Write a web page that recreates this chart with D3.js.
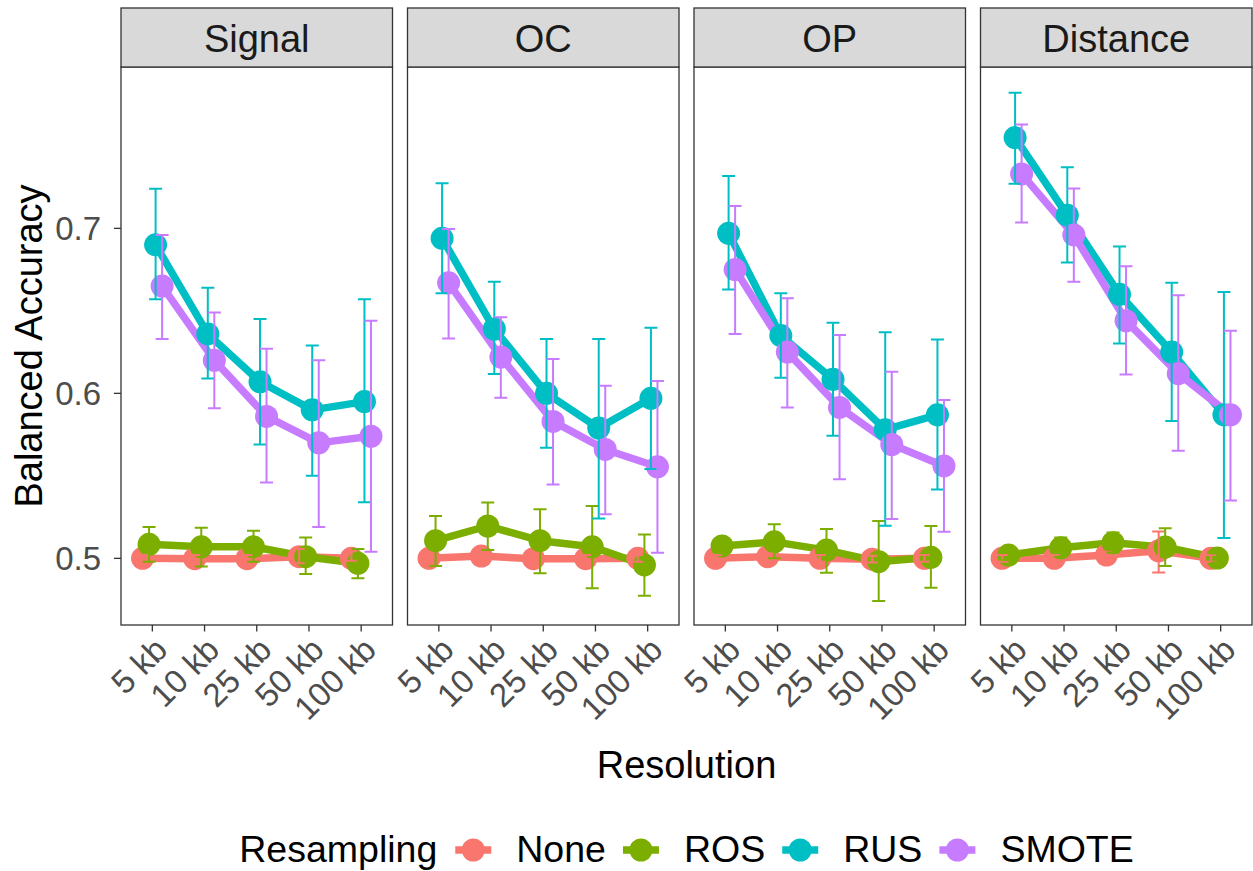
<!DOCTYPE html>
<html>
<head>
<meta charset="utf-8">
<script src="https://cdn.jsdelivr.net/npm/d3@7"></script>
<style>
  html, body { margin: 0; padding: 0; background: #fff; }
  svg { display: block; font-family: "Liberation Sans", Arial, Helvetica, sans-serif; }
</style>
</head>
<body>
<svg id="chart" width="1253" height="871"></svg>
<script>
// ---------------- DATA ----------------
const facets = ["Signal", "OC", "OP", "Distance"];
const resolutions = ["5 kb", "10 kb", "25 kb", "50 kb", "100 kb"];
const methods = ["None", "ROS", "RUS", "SMOTE"];
const methodColors = ["#F8766D", "#7CAE00", "#00BFC4", "#C77CFF"];
const yTicks = [0.5, 0.6, 0.7];

// rows: None, ROS, RUS, SMOTE ; columns: resolutions
const signalMean = [
  [0.500, 0.4998, 0.4998, 0.501, 0.500],
  [0.5085, 0.507, 0.507, 0.501, 0.497],
  [0.690, 0.636, 0.607, 0.590, 0.595],
  [0.665, 0.620, 0.586, 0.570, 0.574]
];
const signalLow = [
  [0.498, 0.498, 0.498, 0.497, 0.4985],
  [0.498, 0.495, 0.498, 0.4905, 0.488],
  [0.657, 0.609, 0.569, 0.550, 0.534],
  [0.633, 0.591, 0.546, 0.519, 0.504]
];
const signalHigh = [
  [0.502, 0.502, 0.502, 0.5056, 0.5045],
  [0.519, 0.5186, 0.5167, 0.5127, 0.5056],
  [0.724, 0.664, 0.645, 0.629, 0.657],
  [0.696, 0.649, 0.627, 0.620, 0.644]
];

const ocMean = [
  [0.500, 0.5014, 0.4998, 0.4998, 0.500],
  [0.5107, 0.5196, 0.5107, 0.507, 0.496],
  [0.694, 0.639, 0.600, 0.579, 0.597],
  [0.667, 0.622, 0.583, 0.566, 0.5555]
];
const ocLow = [
  [0.498, 0.4995, 0.498, 0.498, 0.498],
  [0.4953, 0.505, 0.4909, 0.4818, 0.4774],
  [0.6606, 0.6117, 0.567, 0.5242, 0.5541],
  [0.6333, 0.5973, 0.5448, 0.5268, 0.5034]
];
const ocHigh = [
  [0.502, 0.5035, 0.502, 0.502, 0.502],
  [0.5256, 0.5339, 0.5297, 0.5317, 0.5145],
  [0.7273, 0.6676, 0.6329, 0.6329, 0.6398],
  [0.6996, 0.6461, 0.6208, 0.6046, 0.6075]
];

const opMean = [
  [0.500, 0.501, 0.500, 0.4995, 0.500],
  [0.5075, 0.510, 0.505, 0.498, 0.5006],
  [0.697, 0.635, 0.6085, 0.578, 0.587],
  [0.675, 0.625, 0.5915, 0.569, 0.556]
];
const opLow = [
  [0.498, 0.499, 0.498, 0.4975, 0.498],
  [0.5045, 0.500, 0.4913, 0.4741, 0.4822],
  [0.663, 0.6095, 0.5743, 0.5198, 0.5418],
  [0.6359, 0.5915, 0.5479, 0.5238, 0.5161]
];
const opHigh = [
  [0.502, 0.503, 0.502, 0.5015, 0.502],
  [0.5105, 0.5206, 0.5178, 0.5226, 0.5196],
  [0.7317, 0.6606, 0.6428, 0.637, 0.6327],
  [0.7135, 0.6576, 0.6353, 0.6131, 0.5959]
];

const distanceMean = [
  [0.500, 0.500, 0.502, 0.5046, 0.500],
  [0.502, 0.5064, 0.5095, 0.5068, 0.5002],
  [0.755, 0.708, 0.660, 0.625, 0.587],
  [0.733, 0.696, 0.644, 0.612, 0.587]
];
const distanceLow = [
  [0.498, 0.498, 0.500, 0.4914, 0.498],
  [0.499, 0.501, 0.5035, 0.4953, 0.4975],
  [0.7271, 0.6793, 0.6302, 0.5832, 0.5123],
  [0.7035, 0.6676, 0.6115, 0.5652, 0.535]
];
const distanceHigh = [
  [0.502, 0.502, 0.504, 0.5162, 0.502],
  [0.505, 0.5127, 0.5156, 0.5182, 0.503],
  [0.7822, 0.737, 0.689, 0.667, 0.6615],
  [0.763, 0.7242, 0.6771, 0.6595, 0.6379]
];

const facetMeans = [signalMean, ocMean, opMean, distanceMean];
const facetLows = [signalLow, ocLow, opLow, distanceLow];
const facetHighs = [signalHigh, ocHigh, opHigh, distanceHigh];

// ---------------- LAYOUT ----------------
const svg = d3.select("#chart");
const panelLeft = 121, panelW = 271.5, panelGap = 15;
const stripTop = 8, stripBottom = 67, panelBottom = 625;
const textCol = "#4D4D4D", borderCol = "#333333";

const y = d3.scaleLinear().domain([0.4596, 0.7978]).range([panelBottom, stripBottom]);
const colorScale = d3.scaleOrdinal().domain(methods).range(methodColors);
const dodge = d3.scaleBand().domain(methods).range([-0.25, 0.25]);

const lineW = 7.5, pointR = 11.5, errW = 2, capHalf = 6.5;

facets.forEach((fname, fi) => {
  const x0 = panelLeft + fi * (panelW + panelGap);
  const x = d3.scalePoint().domain(resolutions).range([x0, x0 + panelW]).padding(0.6);
  const step = x.step();
  const px = (m, r) => x(r) + (dodge(m) + dodge.bandwidth() / 2) * step;

  const g = svg.append("g");
  g.append("rect").attr("x", x0).attr("y", stripBottom).attr("width", panelW)
    .attr("height", panelBottom - stripBottom).attr("fill", "#fff");

  const means = facetMeans[fi], lows = facetLows[fi], highs = facetHighs[fi];
  const series = methods.map((m, mi) => resolutions.map((r, ri) => ({
    m, r, v: means[mi][ri], lo: lows[mi][ri], hi: highs[mi][ri]
  })));

  const line = d3.line().x(d => px(d.m, d.r)).y(d => y(d.v));
  g.append("g").selectAll("path").data(series).join("path")
    .attr("d", line).attr("fill", "none")
    .attr("stroke", d => colorScale(d[0].m)).attr("stroke-width", lineW)
    .attr("stroke-linejoin", "round");
  series.forEach(s => {
    g.append("g").selectAll("circle").data(s).join("circle")
      .attr("cx", d => px(d.m, d.r)).attr("cy", d => y(d.v)).attr("r", pointR)
      .attr("fill", d => colorScale(d.m));
  });
  series.forEach(s => {
    const eb = g.append("g").attr("stroke", colorScale(s[0].m)).attr("stroke-width", errW).attr("fill", "none");
    s.forEach(d => {
      const cx = px(d.m, d.r);
      eb.append("path").attr("d",
        `M${cx - capHalf},${y(d.hi)}H${cx + capHalf}M${cx},${y(d.hi)}V${y(d.lo)}M${cx - capHalf},${y(d.lo)}H${cx + capHalf}`);
    });
  });

  g.append("rect").attr("x", x0).attr("y", stripBottom).attr("width", panelW)
    .attr("height", panelBottom - stripBottom).attr("fill", "none")
    .attr("stroke", borderCol).attr("stroke-width", 1.3);

  g.append("rect").attr("x", x0).attr("y", stripTop).attr("width", panelW)
    .attr("height", stripBottom - stripTop).attr("fill", "#D9D9D9")
    .attr("stroke", borderCol).attr("stroke-width", 1.3);
  g.append("text").attr("x", x0 + panelW / 2).attr("y", 51.5)
    .attr("text-anchor", "middle").attr("font-size", 38).attr("fill", "#1A1A1A")
    .text(fname);

  const xa = g.append("g");
  resolutions.forEach(r => {
    xa.append("line").attr("x1", x(r)).attr("x2", x(r))
      .attr("y1", panelBottom).attr("y2", panelBottom + 6.5)
      .attr("stroke", borderCol).attr("stroke-width", 1.3);
    xa.append("text")
      .attr("transform", `translate(${x(r)},${panelBottom + 10}) rotate(-45)`)
      .attr("text-anchor", "end").attr("dy", "0.72em")
      .attr("font-size", 33).attr("fill", textCol).text(r);
  });

  if (fi === 0) {
    yTicks.forEach(t => {
      g.append("line").attr("x1", x0 - 7).attr("x2", x0)
        .attr("y1", y(t)).attr("y2", y(t))
        .attr("stroke", borderCol).attr("stroke-width", 1.3);
      g.append("text").attr("x", x0 - 20).attr("y", y(t)).attr("dy", "0.36em")
        .attr("text-anchor", "end").attr("font-size", 33).attr("fill", textCol)
        .text(d3.format(".1f")(t));
    });
  }
});

svg.append("text").attr("transform", `translate(42,${(stripBottom + panelBottom) / 2}) rotate(-90)`)
  .attr("text-anchor", "middle").attr("font-size", 38).attr("fill", "#000")
  .text("Balanced Accuracy");
const plotCenter = panelLeft + (4 * panelW + 3 * panelGap) / 2;
svg.append("text").attr("x", plotCenter).attr("y", 777.5)
  .attr("text-anchor", "middle").attr("font-size", 38).attr("fill", "#000")
  .text("Resolution");

const leg = svg.append("g");
const legY = 850;
const titleT = leg.append("text").attr("y", 862).attr("font-size", 37.5).attr("fill", "#000").text("Resampling");
const items = methods.map(m => leg.append("text").attr("y", 862).attr("font-size", 37.5).attr("fill", "#000").text(m));
const titleW = titleT.node().getComputedTextLength();
const itemW = items.map(t => t.node().getComputedTextLength());
const gapTitle = 18, keyW = 36, gapKeyText = 25, gapItem = 17;
const totalW = titleW + itemW.reduce((a, b) => a + b, 0) + methods.length * (keyW + gapKeyText) + gapTitle + (methods.length - 1) * gapItem;
let cur = plotCenter - totalW / 2;
titleT.attr("x", cur);
cur += titleW + gapTitle;
methods.forEach((m, i) => {
  const kc = cur + keyW / 2;
  leg.append("line").attr("x1", cur).attr("x2", cur + keyW).attr("y1", legY).attr("y2", legY)
    .attr("stroke", colorScale(m)).attr("stroke-width", lineW);
  leg.append("circle").attr("cx", kc).attr("cy", legY).attr("r", pointR).attr("fill", colorScale(m));
  cur += keyW + gapKeyText;
  items[i].attr("x", cur);
  cur += itemW[i] + gapItem;
});
</script>
</body>
</html>
